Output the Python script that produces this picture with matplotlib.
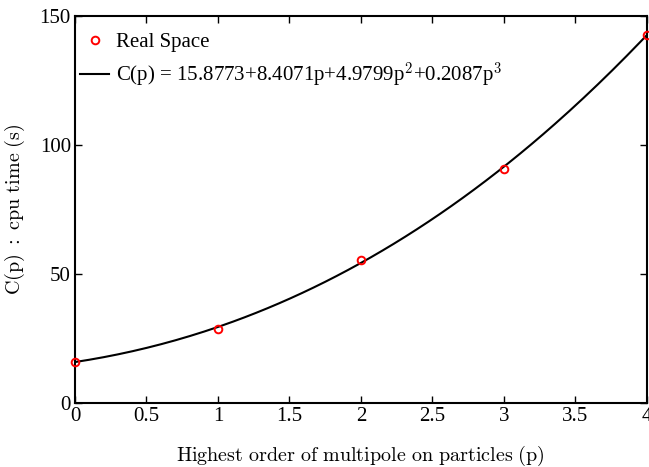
import numpy as np
import matplotlib
matplotlib.use("Agg")
import matplotlib.pyplot as plt

plt.rcParams['font.family'] = ['Liberation Serif', 'DejaVu Serif']
plt.rcParams['mathtext.fontset'] = 'cm'

# measured cpu time per multipole order
p_order = [0, 1, 2, 3, 4]
cpu_time = [16.0, 28.8, 55.4, 90.8, 142.6]

# cubic fit coefficients from the legend (highest power first)
fit_coef = [0.2087, 4.9799, 8.4071, 15.8773]
fit_label = r'C(p) = 15.8773+8.4071p+4.9799p$^2$+0.2087p$^3$'

fig = plt.figure(figsize=(6.49, 4.67), dpi=100)
ax = fig.add_axes([0.1156, 0.137, 0.881, 0.829])

pp = np.linspace(0, 4, 200)
ax.plot(pp, np.polyval(fit_coef, pp), 'k-', lw=1.5, label=fit_label)
ax.plot(p_order, cpu_time, 'o', mfc='none', mec='red', mew=1.4, ms=5.5,
        label='Real Space', clip_on=False, zorder=5)

ax.set_xlim(0, 4)
ax.set_ylim(0, 150)
ax.set_xticks(np.arange(0, 4.01, 0.5))
ax.set_xticklabels(['0', '0.5', '1', '1.5', '2', '2.5', '3', '3.5', '4'])
ax.set_yticks([0, 50, 100, 150])
ax.tick_params(direction='in', top=True, right=True, labelsize=15, length=5, width=1, pad=3)
for s in ax.spines.values():
    s.set_linewidth(1.5)

ax.set_xlabel(r'$\mathrm{Highest\ order\ of\ multipole\ on\ particles\ (p)}$', fontsize=14.5, labelpad=13)
ax.set_ylabel(r'$\mathrm{C(p)\ :\ cpu\ time\ (s)}$', fontsize=14.5, labelpad=9)

h, l = ax.get_legend_handles_labels()
leg = ax.legend(h[::-1], l[::-1], loc='upper left', bbox_to_anchor=(0.009, 0.957),
                frameon=False, fontsize=15, handlelength=1.4,
                handletextpad=0.3, borderaxespad=0.0, borderpad=0.0, labelspacing=0.4)

fig.savefig('out.png', dpi=100)
